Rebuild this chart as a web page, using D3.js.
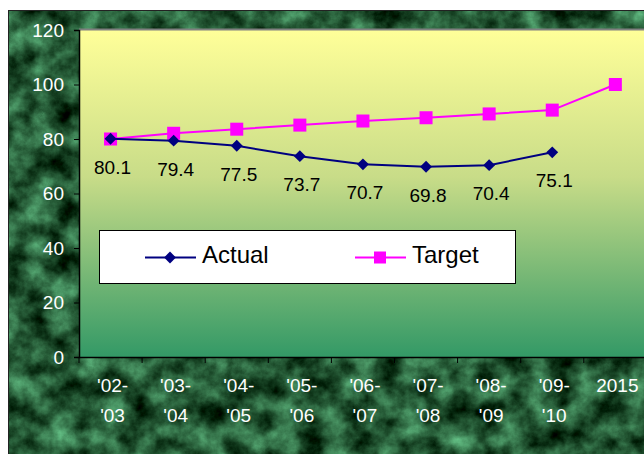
<!DOCTYPE html>
<html>
<head>
<meta charset="utf-8">
<script src="https://cdn.jsdelivr.net/npm/d3@7"></script>
<style>
  html, body { margin: 0; padding: 0; background: #fff; }
  svg { display: block; font-family: Arial, "Liberation Sans", sans-serif; }
</style>
</head>
<body>
<div id="chart"></div>
<script>
// Datos del gráfico
const categories = [["'02-", "'03"], ["'03-", "'04"], ["'04-", "'05"], ["'05-", "'06"], ["'06-", "'07"], ["'07-", "'08"], ["'08-", "'09"], ["'09-", "'10"], ["2015"]];
const actual = [80.1, 79.4, 77.5, 73.7, 70.7, 69.8, 70.4, 75.1];
const target = [80, 82.1, 83.6, 85.1, 86.6, 87.8, 89.2, 90.6, 100];
const yTicks = [0, 20, 40, 60, 80, 100, 120];
const seriesNames = ['Actual', 'Target'];

const W = 644, H = 454;
const FONT = 'Arial, "Liberation Sans", sans-serif';
const svg = d3.select('#chart').append('svg').attr('width', W).attr('height', H);
const defs = svg.append('defs');

// Textura de mármol verde
const f = defs.append('filter').attr('id', 'marble')
  .attr('color-interpolation-filters', 'sRGB')
  .attr('filterUnits', 'userSpaceOnUse').attr('x', 8).attr('y', 10).attr('width', W - 8).attr('height', H - 10);
f.append('feTurbulence').attr('type', 'fractalNoise').attr('baseFrequency', '0.04').attr('numOctaves', 5).attr('seed', 11).attr('result', 'n');
f.append('feColorMatrix').attr('in', 'n').attr('type', 'matrix')
  .attr('values', '0.55 0 0 0 -0.13  0.9 0 0 0 -0.1  0.7 0 0 0 -0.14  0 0 0 0 1');

svg.append('rect').attr('x', 8).attr('y', 10).attr('width', W - 8).attr('height', H - 10)
  .attr('fill', '#1d5230').attr('filter', 'url(#marble)');
svg.append('rect').attr('x', 8.5).attr('y', 10.5).attr('width', W - 8).attr('height', H - 10)
  .attr('fill', 'none').attr('stroke', '#222').attr('stroke-width', 1);

// Gradiente del área de trazado
const grad = defs.append('linearGradient').attr('id', 'plotbg').attr('x1', 0).attr('y1', 0).attr('x2', 0).attr('y2', 1);
grad.append('stop').attr('offset', '0%').attr('stop-color', '#ffff99');
grad.append('stop').attr('offset', '45%').attr('stop-color', '#c8dc88');
grad.append('stop').attr('offset', '100%').attr('stop-color', '#339966');

const margin = { left: 79, top: 30, bottom: 357 };
const step = 63.1;
const x = d3.scaleBand().domain(d3.range(categories.length)).range([margin.left, margin.left + step * categories.length]);
const y = d3.scaleLinear().domain([0, 120]).range([margin.bottom, margin.top]);

svg.append('rect').attr('x', margin.left).attr('y', margin.top)
  .attr('width', step * categories.length).attr('height', margin.bottom - margin.top)
  .attr('fill', 'url(#plotbg)');
svg.append('line').attr('x1', margin.left).attr('x2', W).attr('y1', margin.top - 0.5).attr('y2', margin.top - 0.5)
  .attr('stroke', '#808080').attr('stroke-width', 2);

// Ejes
const yAxis = svg.append('g').attr('transform', `translate(${margin.left},0)`)
  .call(d3.axisLeft(y).tickValues(yTicks).tickSize(5).tickPadding(10));
const xAxis = svg.append('g').attr('transform', `translate(0,${margin.bottom})`)
  .call(d3.axisBottom(x).tickSize(0).tickFormat(''));
[yAxis, xAxis].forEach((g) => {
  g.select('.domain').attr('stroke', '#000').attr('stroke-width', 1.5);
  g.selectAll('line').attr('stroke', '#000');
});
yAxis.selectAll('text').attr('fill', '#fff').attr('font-size', 19).attr('font-family', FONT);

// Marcas entre categorías
svg.append('g').selectAll('line').data(d3.range(categories.length + 1)).join('line')
  .attr('x1', (i) => margin.left + i * step).attr('x2', (i) => margin.left + i * step)
  .attr('y1', margin.bottom).attr('y2', margin.bottom + 6).attr('stroke', '#000');

// Etiquetas del eje X
const xl = svg.append('g').selectAll('text').data(categories).join('text')
  .attr('fill', '#fff').attr('font-size', 19).attr('text-anchor', 'middle').attr('font-family', FONT);
xl.each(function (d, i) {
  const t = d3.select(this);
  d.forEach((s, j) => {
    t.append('tspan').attr('x', x(i) + x.bandwidth() / 2 + 2).attr('y', 392 + j * 30).text(s);
  });
});

const cx = (i) => x(i) + x.bandwidth() / 2;
const line = d3.line().x((d, i) => cx(i)).y((d) => y(d));

// Serie Target
svg.append('path').datum(target).attr('fill', 'none').attr('stroke', '#ff00ff').attr('stroke-width', 2).attr('d', line);
svg.append('g').selectAll('rect').data(target).join('rect')
  .attr('x', (d, i) => cx(i) - 6.5).attr('y', (d) => y(d) - 6.5)
  .attr('width', 13).attr('height', 13).attr('fill', '#ff00ff');

// Serie Actual
svg.append('path').datum(actual).attr('fill', 'none').attr('stroke', '#000080').attr('stroke-width', 2).attr('d', line);
const diamond = d3.symbol().type(d3.symbolDiamond2).size(90);
svg.append('g').selectAll('path').data(actual).join('path')
  .attr('transform', (d, i) => `translate(${cx(i)},${y(d)})`)
  .attr('d', diamond).attr('fill', '#000080');

// Etiquetas de datos
svg.append('g').selectAll('text').data(actual).join('text')
  .attr('x', (d, i) => cx(i) + 2).attr('y', (d) => y(d) + 35)
  .attr('text-anchor', 'middle').attr('font-size', 19).attr('fill', '#000')
  .text((d) => d.toFixed(1));

// Leyenda
const lg = svg.append('g');
lg.append('rect').attr('x', 99.5).attr('y', 230.5).attr('width', 416).attr('height', 53)
  .attr('fill', '#fff').attr('stroke', '#000').attr('stroke-width', 1);
const items = [
  { name: seriesNames[0], x0: 145, color: '#000080', shape: 'diamond' },
  { name: seriesNames[1], x0: 355, color: '#ff00ff', shape: 'square' },
];
items.forEach((it) => {
  lg.append('line').attr('x1', it.x0).attr('x2', it.x0 + 51).attr('y1', 257.5).attr('y2', 257.5)
    .attr('stroke', it.color).attr('stroke-width', 2);
  if (it.shape === 'diamond') {
    lg.append('path').attr('transform', `translate(${it.x0 + 25},257.5)`).attr('d', diamond).attr('fill', it.color);
  } else {
    lg.append('rect').attr('x', it.x0 + 19).attr('y', 251.5).attr('width', 12).attr('height', 12).attr('fill', it.color);
  }
  lg.append('text').attr('x', it.x0 + 57).attr('y', 263).attr('font-size', 24).attr('fill', '#000').text(it.name);
});
</script>
</body>
</html>
